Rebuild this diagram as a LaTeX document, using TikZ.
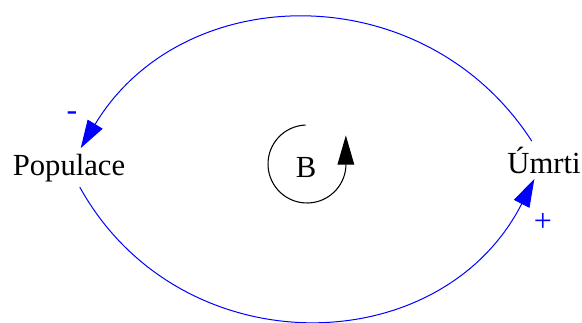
\documentclass[tikz,border=0pt]{standalone}
\usepackage{fontspec}
\setmainfont{Liberation Serif}
\usetikzlibrary{arrows.meta}
\definecolor{linkblue}{RGB}{0,0,255}
\tikzset{
  varnode/.style={font=\fontsize{23pt}{27pt}\selectfont,inner sep=4pt},
  link/.style={draw=linkblue,line width=0.75pt,-{Triangle[length=21pt,width=13pt]},linkblue},
  polarity/.style={text=linkblue,font=\fontsize{24pt}{28pt}\selectfont,inner sep=0pt}
}

\begin{document}
\begin{tikzpicture}[x=0.75pt,y=0.75pt]
  \useasboundingbox (0,0) rectangle (582,322);
  \node[varnode,anchor=base] (populace) at (69,147) {Populace};
  \node[varnode,anchor=base] (umrti) at (544,149) {Úmrti};
  \draw[link] (umrti) to[bend right=58,looseness=1.12] (populace);
  \draw[link] (populace) to[bend right=62,looseness=1.16] (umrti);
  \node[polarity,anchor=base] (minus) at (72,202) {-};
  \node[polarity] (plus) at (543,100) {+};
  % loop marker
  \node[varnode,anchor=base,inner sep=0pt] (loopname) at (306,145) {B};
  \draw[line width=0.8pt,-{Triangle[length=22pt,width=12.5pt]}]
    (307,158) ++(92:39) arc[start angle=92,end angle=355,radius=39] -- ++(0,32);
\end{tikzpicture}
\end{document}
